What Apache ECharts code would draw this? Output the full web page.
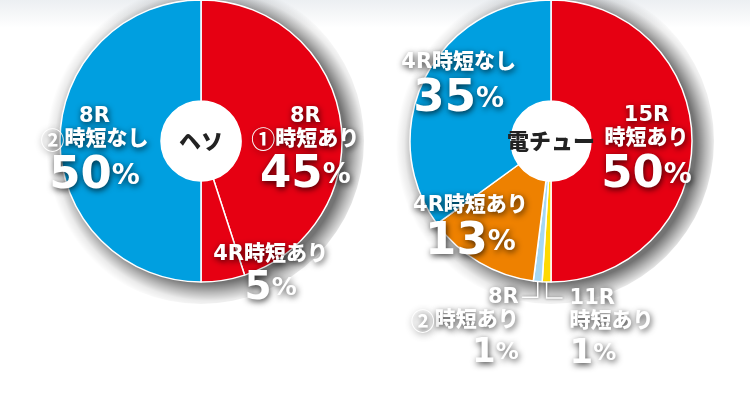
<!DOCTYPE html>
<html>
<head>
<meta charset="utf-8">
<style>
  html, body { margin: 0; padding: 0; background: #fff; }
  #pie { width: 750px; height: 410px; }
</style>
<script src="https://cdn.jsdelivr.net/npm/echarts@6/dist/echarts.min.js"></script>
</head>
<body>
<div id="pie"></div>
<script>
// ヘソ
var hesoTitle = 'ヘソ';
var hesoNames = ['8R\n①時短あり', '4R時短あり', '8R\n②時短なし'];
var hesoValues = [45, 5, 50];
// 電チュー
var denchuTitle = '電チュー';
var denchuNames = ['15R\n時短あり', '11R\n時短あり', '8R\n②時短あり', '4R時短あり', '4R時短なし'];
var denchuValues = [50, 1, 1, 13, 35];

(function () {
    var RED = '#e60012', BLUE = '#009fe0';
    var hesoColors = [RED, RED, BLUE];
    var denchuColors = [RED, '#ffd900', '#a5d8f3', '#ee8100', BLUE];
    var R_IN = 40, R_OUT = 141, R_SHADOW = 163;
    var hesoCenter = [201, 141], denchuCenter = [551, 141];

    // ラベルの位置ずらし（null は外側ラベル）
    var hesoShift = [[12, 27], [55, 45], [-13, 13]];
    var denchuShift = [[2, 12], null, null, [-33, 10], [-9, -10]];

    var jp = '"DejaVu Sans", "Noto Sans CJK JP", sans-serif';
    var num = '"DejaVu Sans", "Liberation Sans", sans-serif';
    var shadow = { textShadowColor: 'rgba(0,0,0,0.75)', textShadowBlur: 6, textShadowOffsetX: 1, textShadowOffsetY: 2 };
    function st(o) { return Object.assign({ color: '#fff', fontWeight: 'bold' }, shadow, o); }
    var rich = {
        n: st({ fontFamily: jp, fontWeight: 900, fontSize: 21, lineHeight: 23 }),
        c: st({ fontFamily: '"Noto Sans CJK JP", sans-serif', fontWeight: 700, fontSize: 24, lineHeight: 23 }),
        v: st({ fontFamily: num, fontSize: 45, lineHeight: 50 }),
        p: st({ fontFamily: num, fontSize: 28, lineHeight: 50 }),
        vm: st({ fontFamily: num, fontSize: 39, lineHeight: 46 }),
        pm: st({ fontFamily: num, fontSize: 25, lineHeight: 46 }),
        vs: st({ fontFamily: num, fontSize: 34, lineHeight: 42 }),
        ps: st({ fontFamily: num, fontSize: 23, lineHeight: 42 })
    };
    function fmt(size) {
        return function (p) {
            var lines = p.name.split('\n').map(function (s) {
                return ('{n|' + s.replace(/([\u2460-\u2473])/g, '}{c|$1}{n|') + '}').replace(/\{n\|\}/g, '');
            });
            var v = size || (p.value < 10 ? 'm' : '');
            lines.push('{v' + v + '|' + p.value + '}{p' + v + '|%}');
            return lines.join('\n');
        };
    }

    function build(names, values, colors, shift) {
        return names.map(function (n, i) {
            var item = { name: n, value: values[i], itemStyle: { color: colors[i] } };
            if (!shift[i]) {
                item.label = { position: 'outside', formatter: fmt('s') };
                item.labelLine = { show: true };
            }
            return item;
        });
    }

    function layoutFor(shift) {
        return function (params) {
            var s = shift[params.dataIndex];
            var r = params.labelRect;
            if (s) {
                return {
                    x: r.x + r.width / 2 + s[0], y: r.y + r.height / 2 + s[1],
                    align: 'center', verticalAlign: 'middle'
                };
            }
            var p = params.labelLinePoints[0];
            var dir = params.dataIndex === 1 ? 1 : -1;
            var bend = [p[0], p[1] + 16];
            var end = [p[0] + dir * 16, p[1] + 16];
            return {
                x: end[0] + dir * (dir > 0 ? 7 : 3), y: end[1] - 11,
                align: dir > 0 ? 'left' : 'right', verticalAlign: 'top',
                labelLinePoints: [p, bend, end]
            };
        };
    }

    // 円の外側に付く影（右下を濃くしたリング）
    function shadowRing(center) {
        var d = 2 * R_SHADOW;
        return {
            type: 'pie', center: center, radius: [R_OUT - 1, R_SHADOW], z: 4, silent: true,
            label: { show: false }, labelLine: { show: false },
            itemStyle: {
                color: new echarts.graphic.RadialGradient(0.5 + 8 / d, 0.5 + 5 / d, 0.5, [
                    { offset: 0, color: 'rgba(0,0,0,0.6)' },
                    { offset: 0.84, color: 'rgba(0,0,0,0.55)' },
                    { offset: 0.9, color: 'rgba(0,0,0,0.28)' },
                    { offset: 0.95, color: 'rgba(0,0,0,0.08)' },
                    { offset: 1, color: 'rgba(0,0,0,0)' }
                ])
            },
            data: [{ value: 1, name: 'shadow' }]
        };
    }
    function hole(center, title) {
        return {
            type: 'pie', center: center, radius: [0, R_IN], z: 6, silent: true,
            itemStyle: { color: '#fff' },
            label: {
                show: true, position: 'center', color: '#222',
                fontFamily: '"Noto Sans CJK JP", sans-serif', fontWeight: 900, fontSize: 22
            },
            labelLine: { show: false },
            data: [{ value: 1, name: title }]
        };
    }
    function main(center, names, values, colors, shift) {
        return {
            type: 'pie', center: center, radius: [R_IN, R_OUT], z: 5,
            startAngle: 90, clockwise: true, avoidLabelOverlap: false, silent: true,
            itemStyle: { borderColor: '#fff', borderWidth: 1.5 },
            label: { show: true, position: 'inside', formatter: fmt(), rich: rich },
            labelLine: {
                show: false,
                lineStyle: { color: '#fff', width: 1.5, shadowBlur: 3, shadowColor: 'rgba(0,0,0,0.5)' }
            },
            labelLayout: layoutFor(shift),
            data: build(names, values, colors, shift)
        };
    }

    var chart = echarts.init(document.getElementById('pie'));
    chart.setOption({
        animation: false,
        graphic: [{
            type: 'rect', z: -10, silent: true,
            shape: { x: 0, y: 0, width: 750, height: 40 },
            style: {
                fill: new echarts.graphic.LinearGradient(0, 0, 0, 1, [
                    { offset: 0, color: '#eceff2' },
                    { offset: 0.7, color: '#ffffff' },
                    { offset: 1, color: '#ffffff' }
                ])
            }
        }],
        series: [
            shadowRing(hesoCenter),
            shadowRing(denchuCenter),
            main(hesoCenter, hesoNames, hesoValues, hesoColors, hesoShift),
            main(denchuCenter, denchuNames, denchuValues, denchuColors, denchuShift),
            hole(hesoCenter, hesoTitle),
            hole(denchuCenter, denchuTitle)
        ]
    });
})();
</script>
</body>
</html>
